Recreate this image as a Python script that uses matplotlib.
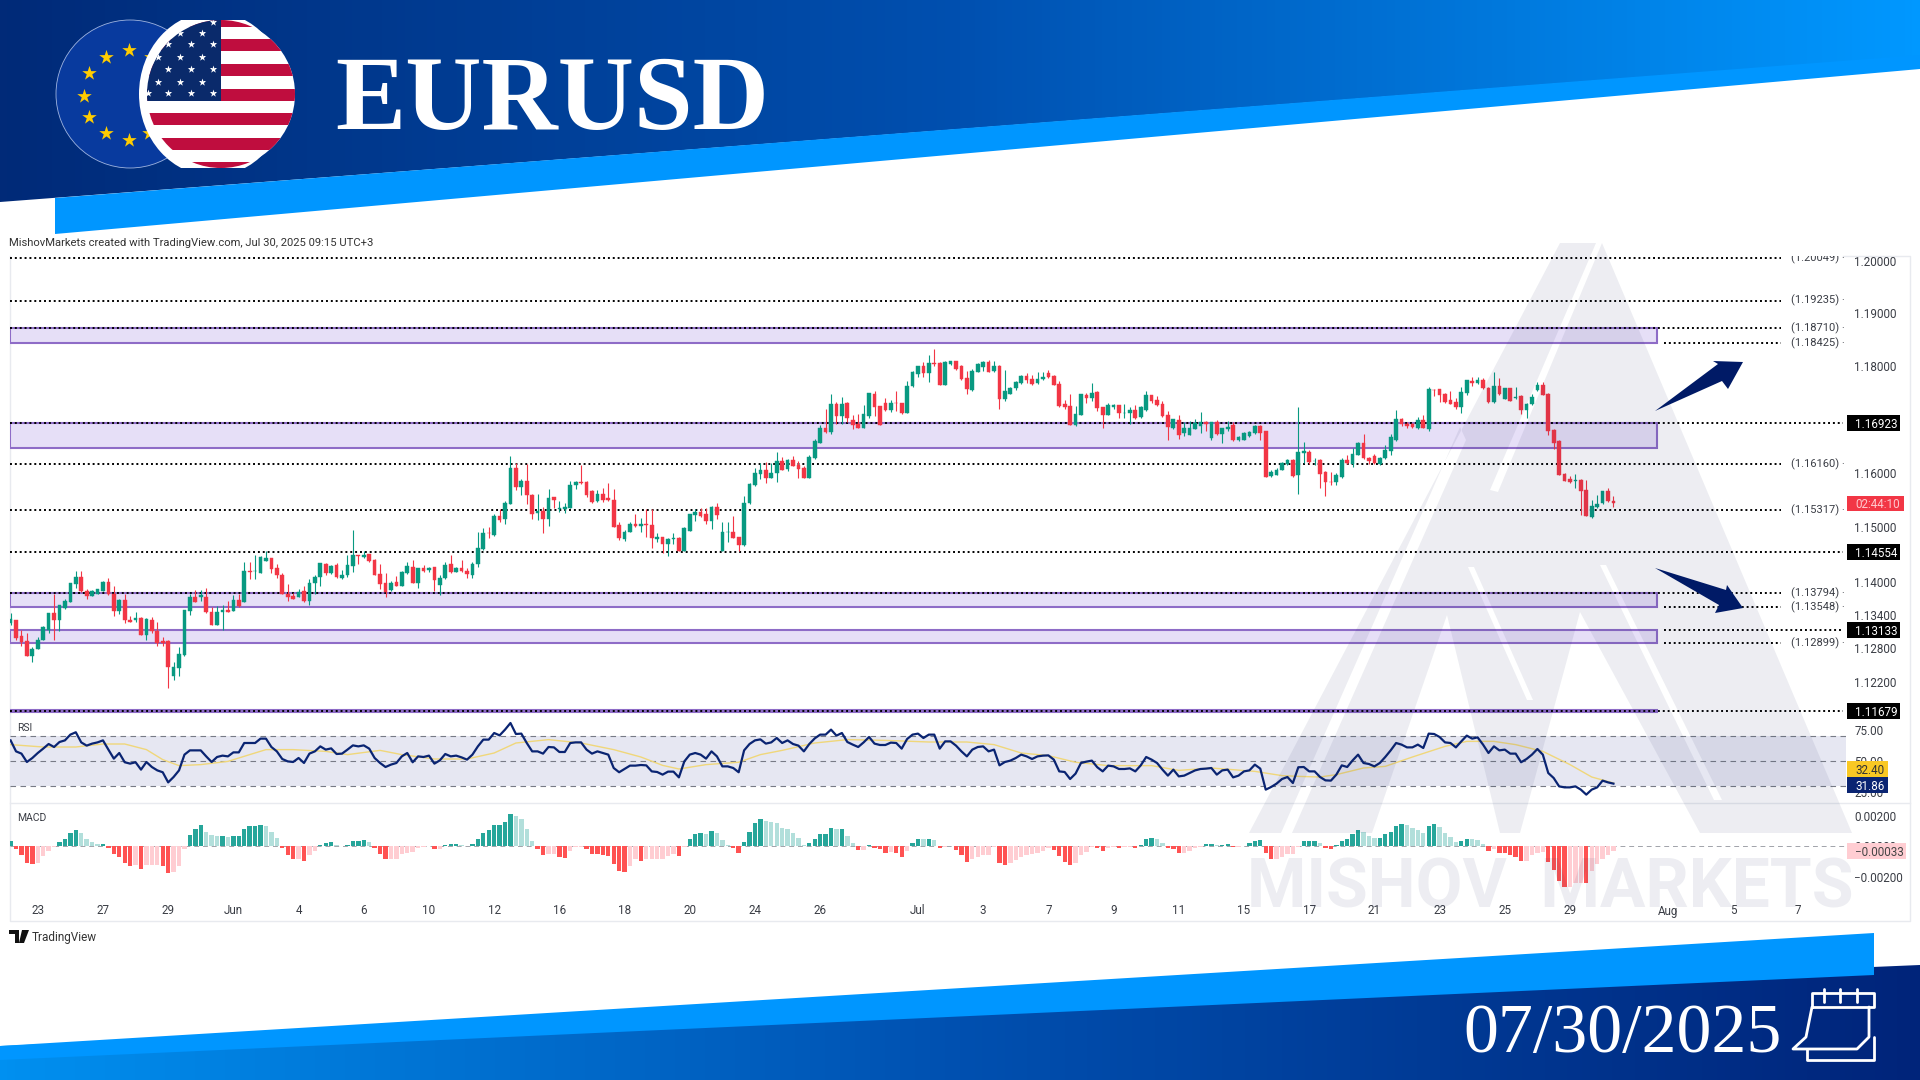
import numpy as np
import matplotlib
matplotlib.use('Agg')
import matplotlib.pyplot as plt
from matplotlib.colors import LinearSegmentedColormap
from matplotlib.patches import Ellipse, Polygon, Rectangle, PathPatch
from matplotlib.path import Path
from matplotlib.ticker import FormatStrFormatter

# 4H candles
opens = [
    1.1325,1.1332,1.1302,1.1293,1.1266,1.1279,1.1295,1.1314,1.1343,1.1332,
    1.1353,1.1364,1.1396,1.1410,1.1384,1.1375,1.1378,1.1384,1.1401,1.1379,
    1.1348,1.1367,1.1332,1.1332,1.1334,1.1305,1.1332,1.1312,1.1293,1.1293,
    1.1231,1.1245,1.1268,1.1347,1.1372,1.1373,1.1372,1.1346,1.1322,1.1345,
    1.1350,1.1348,1.1368,1.1363,1.1421,1.1420,1.1417,1.1439,1.1444,1.1425,
    1.1413,1.1379,1.1374,1.1373,1.1384,1.1365,1.1398,1.1409,1.1433,1.1416,
    1.1431,1.1408,1.1412,1.1430,1.1449,1.1445,1.1451,1.1441,1.1415,1.1398,
    1.1385,1.1400,1.1393,1.1416,1.1428,1.1398,1.1425,1.1422,1.1427,1.1395,
    1.1407,1.1432,1.1419,1.1426,1.1420,1.1412,1.1432,1.1461,1.1490,1.1486,
    1.1521,1.1516,1.1543,1.1610,1.1575,1.1585,1.1560,1.1527,1.1530,1.1515,
    1.1555,1.1533,1.1533,1.1536,1.1577,1.1583,1.1584,1.1567,1.1548,1.1562,
    1.1553,1.1551,1.1505,1.1479,1.1492,1.1507,1.1502,1.1507,1.1505,1.1479,
    1.1482,1.1469,1.1478,1.1480,1.1456,1.1493,1.1523,1.1528,1.1524,1.1512,
    1.1538,1.1456,1.1491,1.1492,1.1482,1.1467,1.1544,1.1577,1.1598,1.1606,
    1.1591,1.1600,1.1623,1.1607,1.1625,1.1614,1.1610,1.1591,1.1627,1.1655,
    1.1683,1.1677,1.1728,1.1706,1.1731,1.1699,1.1692,1.1684,1.1706,1.1747,
    1.1724,1.1731,1.1717,1.1731,1.1730,1.1711,1.1762,1.1785,1.1799,1.1786,
    1.1806,1.1806,1.1765,1.1804,1.1809,1.1799,1.1777,1.1755,1.1789,1.1798,
    1.1808,1.1790,1.1800,1.1738,1.1748,1.1758,1.1767,1.1781,1.1775,1.1767,
    1.1775,1.1786,1.1781,1.1766,1.1728,1.1724,1.1690,1.1708,1.1746,1.1740,
    1.1751,1.1722,1.1708,1.1722,1.1726,1.1711,1.1712,1.1718,1.1704,1.1717,
    1.1745,1.1736,1.1729,1.1707,1.1684,1.1699,1.1675,1.1671,1.1682,1.1687,
    1.1694,1.1665,1.1695,1.1672,1.1681,1.1689,1.1661,1.1662,1.1668,1.1674,
    1.1687,1.1678,1.1594,1.1597,1.1606,1.1616,1.1625,1.1597,1.1638,1.1639,
    1.1622,1.1625,1.1602,1.1584,1.1583,1.1592,1.1625,1.1617,1.1633,1.1656,
    1.1628,1.1631,1.1616,1.1627,1.1641,1.1661,1.1700,1.1692,1.1692,1.1684,
    1.1699,1.1681,1.1755,1.1756,1.1748,1.1736,1.1733,1.1723,1.1749,1.1771,
    1.1767,1.1774,1.1759,1.1733,1.1762,1.1738,1.1758,1.1740,1.1743,1.1717,
    1.1728,1.1754,1.1764,1.1748,1.1680,1.1659,1.1599,1.1589,1.1585,1.1588,
    1.1568,1.1519,1.1537,1.1544,1.1567,1.1548]
highs = [
    1.1343,1.1332,1.1313,1.1308,1.1282,1.1300,1.1320,1.1344,1.1378,1.1359,
    1.1370,1.1399,1.1420,1.1420,1.1387,1.1386,1.1388,1.1402,1.1408,1.1393,
    1.1369,1.1379,1.1338,1.1346,1.1337,1.1334,1.1337,1.1328,1.1301,1.1296,
    1.1255,1.1282,1.1350,1.1379,1.1385,1.1385,1.1390,1.1355,1.1357,1.1358,
    1.1365,1.1376,1.1379,1.1437,1.1437,1.1450,1.1447,1.1456,1.1444,1.1433,
    1.1417,1.1396,1.1381,1.1387,1.1393,1.1405,1.1413,1.1435,1.1434,1.1431,
    1.1435,1.1422,1.1449,1.1496,1.1449,1.1456,1.1452,1.1442,1.1432,1.1416,
    1.1402,1.1411,1.1420,1.1437,1.1440,1.1425,1.1431,1.1428,1.1428,1.1413,
    1.1437,1.1449,1.1428,1.1440,1.1425,1.1437,1.1492,1.1498,1.1501,1.1525,
    1.1533,1.1548,1.1631,1.1618,1.1589,1.1616,1.1562,1.1562,1.1538,1.1570,
    1.1556,1.1549,1.1544,1.1586,1.1586,1.1615,1.1586,1.1568,1.1568,1.1573,
    1.1582,1.1570,1.1509,1.1495,1.1509,1.1524,1.1518,1.1533,1.1533,1.1490,
    1.1483,1.1480,1.1489,1.1483,1.1501,1.1525,1.1533,1.1535,1.1535,1.1539,
    1.1544,1.1509,1.1510,1.1521,1.1483,1.1558,1.1582,1.1609,1.1618,1.1621,
    1.1618,1.1639,1.1630,1.1626,1.1631,1.1622,1.1613,1.1634,1.1664,1.1690,
    1.1719,1.1747,1.1733,1.1741,1.1733,1.1708,1.1709,1.1727,1.1750,1.1753,
    1.1725,1.1740,1.1736,1.1753,1.1731,1.1772,1.1791,1.1800,1.1807,1.1820,
    1.1832,1.1808,1.1809,1.1810,1.1810,1.1801,1.1790,1.1794,1.1805,1.1810,
    1.1811,1.1810,1.1801,1.1792,1.1761,1.1771,1.1782,1.1787,1.1782,1.1788,
    1.1788,1.1792,1.1782,1.1771,1.1736,1.1747,1.1725,1.1748,1.1750,1.1767,
    1.1752,1.1723,1.1731,1.1729,1.1727,1.1729,1.1722,1.1726,1.1724,1.1752,
    1.1746,1.1744,1.1734,1.1716,1.1701,1.1708,1.1694,1.1697,1.1700,1.1714,
    1.1696,1.1695,1.1699,1.1684,1.1697,1.1695,1.1668,1.1676,1.1678,1.1689,
    1.1690,1.1679,1.1605,1.1610,1.1620,1.1626,1.1626,1.1722,1.1658,1.1642,
    1.1628,1.1626,1.1603,1.1602,1.1600,1.1627,1.1633,1.1646,1.1658,1.1673,
    1.1629,1.1636,1.1629,1.1652,1.1673,1.1717,1.1703,1.1695,1.1693,1.1704,
    1.1708,1.1760,1.1756,1.1757,1.1749,1.1753,1.1740,1.1760,1.1774,1.1779,
    1.1779,1.1778,1.1760,1.1789,1.1778,1.1759,1.1759,1.1760,1.1745,1.1731,
    1.1748,1.1770,1.1770,1.1749,1.1681,1.1661,1.1600,1.1594,1.1598,1.1589,
    1.1588,1.1550,1.1560,1.1567,1.1572,1.1557]
lows = [
    1.1322,1.1295,1.1285,1.1266,1.1255,1.1279,1.1295,1.1308,1.1296,1.1311,
    1.1352,1.1363,1.1389,1.1382,1.1369,1.1375,1.1378,1.1384,1.1376,1.1338,
    1.1342,1.1325,1.1327,1.1328,1.1304,1.1295,1.1307,1.1284,1.1285,1.1209,
    1.1224,1.1230,1.1267,1.1340,1.1363,1.1365,1.1344,1.1322,1.1322,1.1313,
    1.1345,1.1347,1.1355,1.1363,1.1405,1.1405,1.1416,1.1438,1.1417,1.1407,
    1.1378,1.1365,1.1369,1.1372,1.1364,1.1358,1.1378,1.1393,1.1412,1.1415,
    1.1408,1.1405,1.1410,1.1419,1.1433,1.1443,1.1436,1.1412,1.1387,1.1372,
    1.1384,1.1392,1.1392,1.1414,1.1398,1.1389,1.1419,1.1419,1.1384,1.1376,
    1.1406,1.1416,1.1418,1.1419,1.1407,1.1407,1.1428,1.1459,1.1481,1.1485,
    1.1509,1.1507,1.1542,1.1568,1.1559,1.1542,1.1515,1.1513,1.1489,1.1503,
    1.1535,1.1528,1.1527,1.1536,1.1571,1.1579,1.1555,1.1545,1.1547,1.1547,
    1.1548,1.1500,1.1477,1.1475,1.1491,1.1501,1.1492,1.1483,1.1462,1.1473,
    1.1453,1.1448,1.1469,1.1456,1.1456,1.1493,1.1512,1.1519,1.1507,1.1497,
    1.1516,1.1456,1.1474,1.1480,1.1456,1.1465,1.1542,1.1576,1.1589,1.1581,
    1.1590,1.1583,1.1605,1.1604,1.1613,1.1591,1.1591,1.1591,1.1626,1.1655,
    1.1675,1.1672,1.1692,1.1692,1.1694,1.1681,1.1683,1.1684,1.1703,1.1706,
    1.1689,1.1716,1.1713,1.1716,1.1709,1.1711,1.1761,1.1780,1.1780,1.1769,
    1.1799,1.1764,1.1765,1.1801,1.1792,1.1774,1.1747,1.1753,1.1788,1.1791,
    1.1788,1.1789,1.1719,1.1735,1.1747,1.1755,1.1766,1.1767,1.1765,1.1766,
    1.1774,1.1777,1.1764,1.1723,1.1719,1.1690,1.1687,1.1707,1.1731,1.1735,
    1.1716,1.1684,1.1707,1.1719,1.1703,1.1703,1.1692,1.1700,1.1703,1.1716,
    1.1731,1.1725,1.1704,1.1662,1.1681,1.1664,1.1668,1.1670,1.1681,1.1675,
    1.1679,1.1661,1.1671,1.1655,1.1679,1.1659,1.1659,1.1661,1.1667,1.1673,
    1.1662,1.1593,1.1592,1.1596,1.1605,1.1614,1.1593,1.1561,1.1619,1.1617,
    1.1614,1.1572,1.1557,1.1577,1.1578,1.1591,1.1617,1.1611,1.1633,1.1626,
    1.1617,1.1617,1.1614,1.1626,1.1633,1.1659,1.1687,1.1684,1.1683,1.1682,
    1.1683,1.1679,1.1743,1.1733,1.1731,1.1728,1.1720,1.1711,1.1746,1.1763,
    1.1766,1.1756,1.1731,1.1731,1.1746,1.1737,1.1734,1.1738,1.1710,1.1703,
    1.1726,1.1753,1.1745,1.1671,1.1645,1.1596,1.1585,1.1582,1.1573,1.1522,
    1.1521,1.1517,1.1536,1.1543,1.1547,1.1538]
closes = [
    1.1333,1.1299,1.1292,1.1266,1.1279,1.1296,1.1319,1.1343,1.1332,1.1358,
    1.1365,1.1398,1.1410,1.1384,1.1375,1.1384,1.1387,1.1401,1.1378,1.1348,
    1.1367,1.1331,1.1327,1.1334,1.1305,1.1333,1.1311,1.1290,1.1290,1.1246,
    1.1246,1.1270,1.1349,1.1372,1.1364,1.1376,1.1345,1.1322,1.1346,1.1350,
    1.1346,1.1368,1.1357,1.1420,1.1418,1.1421,1.1445,1.1443,1.1424,1.1412,
    1.1379,1.1372,1.1369,1.1382,1.1365,1.1399,1.1410,1.1434,1.1416,1.1430,
    1.1410,1.1413,1.1431,1.1449,1.1447,1.1450,1.1439,1.1413,1.1396,1.1382,
    1.1398,1.1393,1.1418,1.1429,1.1398,1.1425,1.1421,1.1425,1.1404,1.1407,
    1.1431,1.1419,1.1426,1.1420,1.1414,1.1432,1.1462,1.1490,1.1489,1.1521,
    1.1513,1.1544,1.1610,1.1575,1.1586,1.1559,1.1525,1.1530,1.1515,1.1554,
    1.1551,1.1536,1.1538,1.1578,1.1584,1.1581,1.1560,1.1547,1.1562,1.1551,
    1.1550,1.1501,1.1480,1.1492,1.1507,1.1502,1.1506,1.1504,1.1481,1.1482,
    1.1469,1.1478,1.1480,1.1456,1.1499,1.1524,1.1528,1.1521,1.1512,1.1538,
    1.1522,1.1491,1.1492,1.1481,1.1467,1.1545,1.1580,1.1600,1.1606,1.1590,
    1.1601,1.1623,1.1606,1.1625,1.1613,1.1608,1.1591,1.1630,1.1660,1.1683,
    1.1677,1.1729,1.1706,1.1729,1.1702,1.1690,1.1684,1.1709,1.1749,1.1723,
    1.1690,1.1717,1.1731,1.1730,1.1711,1.1763,1.1789,1.1799,1.1786,1.1806,
    1.1804,1.1765,1.1808,1.1809,1.1794,1.1775,1.1757,1.1791,1.1803,1.1808,
    1.1789,1.1799,1.1738,1.1752,1.1758,1.1769,1.1781,1.1774,1.1766,1.1775,
    1.1780,1.1779,1.1765,1.1724,1.1722,1.1690,1.1709,1.1747,1.1740,1.1750,
    1.1721,1.1708,1.1727,1.1726,1.1711,1.1712,1.1718,1.1702,1.1723,1.1746,
    1.1735,1.1726,1.1706,1.1685,1.1700,1.1671,1.1684,1.1683,1.1693,1.1694,
    1.1692,1.1694,1.1673,1.1683,1.1685,1.1661,1.1667,1.1674,1.1676,1.1687,
    1.1675,1.1593,1.1602,1.1606,1.1618,1.1625,1.1594,1.1639,1.1641,1.1621,
    1.1623,1.1598,1.1583,1.1583,1.1597,1.1625,1.1618,1.1636,1.1656,1.1627,
    1.1622,1.1618,1.1628,1.1642,1.1666,1.1700,1.1692,1.1687,1.1686,1.1699,
    1.1684,1.1756,1.1754,1.1746,1.1733,1.1729,1.1723,1.1751,1.1773,1.1767,
    1.1774,1.1758,1.1733,1.1762,1.1748,1.1758,1.1735,1.1741,1.1717,1.1729,
    1.1742,1.1765,1.1746,1.1678,1.1656,1.1597,1.1586,1.1583,1.1588,1.1567,
    1.1521,1.1539,1.1543,1.1566,1.1548,1.1544]

rsi = [
    66.5,57.7,55.9,49.2,52.4,56.4,59.9,63.6,61.2,65.2,
    66.5,71.1,73.0,64.9,62.3,63.9,64.9,66.5,59.1,51.9,
    56.4,49.0,47.9,49.0,43.1,49.2,45.2,42.5,41.0,32.9,
    37.2,42.5,55.1,58.5,58.5,58.5,53.7,49.2,53.2,54.3,
    53.7,56.9,56.9,64.4,64.4,64.4,67.9,67.9,61.2,57.7,
    51.6,49.7,49.2,52.4,48.4,55.9,57.7,61.7,59.1,60.1,
    55.6,55.9,59.1,62.5,61.7,62.5,59.9,52.4,48.4,45.2,
    47.1,48.4,53.7,56.4,49.0,53.7,53.2,54.3,47.9,50.5,
    55.6,53.7,54.3,52.9,51.1,55.1,61.7,67.1,67.1,72.4,
    70.5,75.1,80.4,71.6,71.9,64.4,57.7,57.7,55.9,61.2,
    60.9,57.2,57.2,64.4,64.9,64.9,59.1,55.9,57.7,56.4,
    55.1,44.4,41.0,43.6,46.3,46.3,46.8,
    46.5,41.7,41.2,39.1,41.5,41.5,36.9,49.7,55.1,56.4,
    55.1,51.9,57.7,53.7,45.7,45.7,44.4,41.0,58.5,63.6,
    66.5,67.3,63.9,64.9,68.4,64.4,66.5,63.6,62.3,57.7,
    63.6,68.1,71.1,71.1,75.1,70.3,72.4,65.2,63.1,61.2,
    64.9,69.2,63.9,62.8,62.8,64.7,64.4,59.9,67.6,71.1,
    71.9,68.4,71.1,71.1,59.9,65.7,65.7,62.3,57.7,53.7,
    59.1,61.2,61.7,57.7,59.1,46.5,49.2,50.3,52.4,55.1,
    53.7,51.6,53.7,54.3,54.5,51.1,41.7,41.2,35.6,39.9,
    48.4,49.5,50.3,45.0,41.7,46.3,45.7,43.6,43.6,44.1,
    41.7,46.5,53.2,51.1,48.4,43.1,38.3,43.1,37.7,38.3,
    40.4,42.5,43.6,43.9,44.4,39.1,42.5,43.1,36.9,38.3,
    41.7,42.5,47.1,43.9,27.1,29.2,31.9,
    35.6,37.2,32.4,45.0,45.2,41.7,41.7,37.2,34.5,34.3,
    39.1,46.5,45.2,50.5,55.1,48.4,47.6,45.7,48.4,53.2,
    58.5,64.4,63.1,60.9,60.9,63.1,60.4,71.9,71.6,69.2,
    64.9,64.4,60.9,65.7,70.3,67.9,68.9,63.1,56.4,61.7,
    58.5,59.1,55.9,55.9,49.0,51.6,55.1,59.6,55.1,40.4,
    36.4,29.7,28.9,28.9,29.7,27.1,23.1,27.1,28.9,34.3,
    32.9,31.9]

# the smoothing line only read at some candles
rsi_ma_idx = [0,6,12,17,21,25,28,31,35,40,44,47,52,58,62,68,72,78,84,89,93,99,105,111,116,
              120,123,128,134,138,142,148,154,161,169,176,181,186,191,196,202,210,215,221,229,234,
              237,241,244,249,253,258,264,268,273,277,282,287,291,295]
rsi_ma = [63.1,61.2,61.2,63.6,63.6,59.1,51.1,46.3,47.1,49.7,55.1,59.1,59.1,57.7,55.1,58.5,55.1,51.6,51.6,56.4,64.4,67.1,64.4,59.1,53.2,
          46.5,43.6,47.1,49.0,55.1,58.5,64.4,67.1,66.5,65.2,65.2,63.1,56.4,54.3,49.0,46.3,46.3,42.5,44.4,41.7,38.3,
          37.7,37.2,39.1,44.4,45.7,53.2,61.7,65.7,65.7,63.1,57.7,47.1,37.2,32.4]

# MACD histogram in 1e-5 units
macd_hist = [
    33,-22,-59,-109,-120,-109,-66,-33,-4,26,
    44,83,103,83,48,26,15,15,-15,-55,
    -72,-114,-131,-127,-149,-127,-127,-127,-131,-175,
    -171,-131,-22,72,114,138,92,70,66,66,
    59,66,66,109,131,131,138,131,92,55,
    -11,-59,-87,-87,-98,-61,-33,7,17,28,
    4,-2,7,35,35,39,26,-15,-55,-87,
    -87,-87,-55,-44,-37,-11,-4,-2,-22,-22,
    7,11,15,7,-2,13,44,87,105,138,
    138,157,212,197,179,114,33,-22,-61,-55,
    -55,-72,-77,-33,-7,-4,-22,-52,-55,-61,
    -66,-120,-164,-168,-131,-87,
    -98,-87,-87,-87,-83,-66,-55,-66,-4,44,
    77,87,77,96,83,37,7,-15,-48,28,
    94,153,175,166,157,153,120,109,87,55,
    7,17,44,77,77,120,109,109,66,22,
    -26,-26,7,-13,-22,-44,-37,-44,-70,-33,
    17,48,44,48,37,-11,-4,-2,-26,-59,
    -103,-87,-70,-59,-59,-4,-114,-125,-109,-92,
    -70,-61,-55,-48,-33,-11,-26,-66,-103,-125,
    -109,-59,-37,-7,-15,-33,-11,-7,-15,-7,
    -4,-15,7,48,55,48,22,-15,-22,-48,
    -48,-33,-15,-4,11,15,7,9,13,-7,
    -7,-2,22,33,37,-48,-87,-87,
    -72,-55,-55,-4,33,35,35,17,-13,-22,
    7,35,48,77,105,92,66,55,55,77,
    92,131,146,136,120,103,87,131,142,127,
    87,61,28,31,48,44,39,15,-33,-17,
    -44,-48,-59,-72,-98,-98,-61,-44,-37,-105,
    -157,-230,-269,-269,-240,-240,-245,-164,-120,-87,
    -59,-33]

time_idx = [5,17,29,41,53,65,77,89,101,113,125,137,149,167,179,191,203,215,227,239,251,263,275,287,305,317,329]
time_labels = ['23','27','29','Jun','4','6','10','12','16','18','20','24','26','Jul','3','7','9','11','15','17','21','23','25','29','Aug','5','7']

price_ticks = [1.2,1.19,1.18,1.17,1.16,1.15,1.14,1.134,1.128,1.122]
rsi_ticks = [75,50,25]
macd_ticks = [0.002,0.0,-0.002]

# (top, bottom) of the purple zones
zones = [(1.18710,1.18425),(1.16923,1.16465),(1.13794,1.13548),(1.13133,1.12899),(1.11690,1.11668)]
levels_label = [1.20049,1.19235,1.18710,1.18425,1.16160,1.15317,1.13794,1.13548,1.12899]
levels_box = [1.16923,1.14554,1.13133,1.11679]
# these only show to the right of their zone
levels_after_zone = [1.18425,1.13548,1.13133,1.12899]

W, H = 1920, 1080
GREEN, RED = '#089981', '#f23645'
NAVY = '#0a2472'
AXIS_TXT = '#3a3d45'
FONT = 'Roboto'

def pane(x0, y0, x1, y1):
    return [x0 / W, 1 - y1 / H, (x1 - x0) / W, (y1 - y0) / H]

fig = plt.figure(figsize=(W / 100, H / 100), dpi=100, facecolor='white')

# --- background layer, in pixel coordinates ---
bg = fig.add_axes([0, 0, 1, 1], zorder=0)
bg.set_xlim(0, W)
bg.set_ylim(H, 0)
bg.axis('off')

def gradient(pts, colors):
    cmap = LinearSegmentedColormap.from_list('g', colors)
    im = bg.imshow(np.linspace(0, 1, 512)[None, :], extent=[0, W, H, 0], cmap=cmap, aspect='auto')
    im.set_clip_path(Polygon(pts, closed=True, transform=bg.transData))

bg.add_patch(Polygon([(55, 198), (W, 55), (W, 69), (55, 234)], fc='#0096ff', ec='none'))
gradient([(0, 0), (W, 0), (W, 56), (0, 202)], ['#012a78', '#0050b0', '#0098ff'])
bg.add_patch(Polygon([(0, 1046), (1874, 933), (1874, 975), (0, 1060)], fc='#0096ff', ec='none'))
gradient([(0, 1046), (W, 965), (W, H), (0, H)], ['#0090f0', '#0050b0', '#00247a'])
bg.set_xlim(0, W)
bg.set_ylim(H, 0)

bg.text(335, 129, 'EURUSD', color='white', family='Liberation Serif', weight='bold', fontsize=76,
        ha='left', va='baseline')
bg.text(1463, 1052, '07/30/2025', color='white', family='Liberation Serif', fontsize=50.3,
        ha='left', va='baseline')

# calendar icon
cal = dict(color='white', lw=2, solid_capstyle='round', solid_joinstyle='round')
bg.plot([1812, 1812, 1874, 1874, 1812], [1007, 993, 993, 1007, 1007], **cal)
bg.plot([1812, 1806, 1793, 1857, 1869, 1869], [1007, 1037, 1049, 1049, 1037, 1007], **cal)
bg.plot([1807, 1807, 1874, 1874], [1049, 1060, 1060, 1037], **cal)
for rx in [1824, 1840, 1857]:
    bg.plot([rx, rx], [989, 1002], **cal)

# flags
eu = Ellipse((130, 94), 148, 148, fc='#083a9e', ec='#9fb4e0', lw=0.6)
bg.add_patch(eu)
eu_x = [129, 106, 89, 84, 89, 106, 129, 149, 151]
eu_y = [50, 57, 73, 96, 117, 133, 140, 133, 57]
bg.scatter(eu_x, eu_y, marker='*', s=120, color='#ffcc00', linewidths=0, zorder=3)
ring = Ellipse((213, 94), 148, 164, fc='white', ec='none', zorder=4)
bg.add_patch(ring)
ring.set_clip_path(Rectangle((0, 20), 400, 148, transform=bg.transData))
us = Ellipse((221, 94), 148, 148, fc='white', ec='none', zorder=5)
bg.add_patch(us)
for sy in [14.5, 39, 64, 88.5, 113, 138, 162]:
    r = Rectangle((140, sy), 160, 12.4, fc='#bf0d3e', ec='none', zorder=6)
    bg.add_patch(r)
    r.set_clip_path(us)
canton = Rectangle((140, 15), 81, 86, fc='#0a2a6b', ec='none', zorder=7)
bg.add_patch(canton)
canton.set_clip_path(us)
us_x = [180, 202, 168, 191, 213, 158, 180, 202, 168, 191, 213, 158, 180, 202, 148, 168, 191, 213, 213]
us_y = [33, 33, 44, 44, 44, 57, 57, 57, 69, 69, 69, 82, 82, 82, 93, 93, 93, 93, 22]
stars = bg.scatter(us_x, us_y, marker='*', s=32, color='white', linewidths=0, zorder=8)
stars.set_clip_path(us)

bg.text(9, 243, 'MishovMarkets created with TradingView.com, Jul 30, 2025 09:15 UTC+3', family=FONT,
        fontsize=8.15, color='#333333', va='center')
# tradingview logo
bg.add_patch(Polygon([(9, 930), (19, 930), (19, 943), (15, 943), (15, 934), (9, 934)], fc='#111111', ec='none'))
bg.add_patch(Polygon([(22, 930), (29, 930), (24, 943), (19, 943)], fc='#111111', ec='none'))
bg.text(32, 938, 'TradingView', family=FONT, fontsize=8.5, color='#333333', va='center')

# frame of the chart
frame = '#e8eaef'
bg.plot([10, 10, 1910, 1910, 1843], [256, 921, 921, 256, 256], color=frame, lw=1)
bg.plot([10, 1910], [803, 803], color=frame, lw=1)

# --- price pane ---
x = np.arange(len(closes))
o, h, l, c = np.array(opens), np.array(highs), np.array(lows), np.array(closes)
xlim = (-0.11, 337.8)
R_END = 1846
ZONE_END = 0.8969

ax = fig.add_axes(pane(10, 256, R_END, 716), zorder=1, facecolor='none')
ax.set_yscale('log')
ax.set_xlim(*xlim)
ax.set_ylim(1.11590, 1.20087)
trans = ax.get_yaxis_transform()

for top_p, bot_p in zones:
    ax.add_patch(Rectangle((0, bot_p), ZONE_END, top_p - bot_p, transform=trans, fc='#e6dff7', ec='#8e6cc7', lw=1.5, zorder=1))

dots = (0, (1, 1.5))
for lv in levels_label:
    x_start = ZONE_END + 0.004 if lv in levels_after_zone else 0
    ax.plot([x_start, 0.9646], [lv, lv], transform=trans, color='black', lw=1.4, ls=dots, zorder=2)
    ax.text(0.97, lv, '(%.5f) ·' % lv, transform=trans, family=FONT, fontsize=8, color=AXIS_TXT, va='center', clip_on=True)
for lv in levels_box:
    x_start = ZONE_END + 0.004 if lv in levels_after_zone else 0
    ax.plot([x_start, 0.9984], [lv, lv], transform=trans, color='black', lw=1.4, ls=dots, zorder=2)

colors = [GREEN if cl >= op else RED for op, cl in zip(opens, closes)]
ax.vlines(x, l, h, colors=colors, lw=0.8, zorder=3)
ax.bar(x, np.maximum(np.abs(c - o), 0.00004), bottom=np.minimum(o, c), width=0.68, color=colors,
       edgecolor=colors, linewidth=0.3, zorder=4)

ax.yaxis.tick_right()
ax.set_yticks(price_ticks)
ax.yaxis.set_major_formatter(FormatStrFormatter('%.5f'))
ax.minorticks_off()
ax.tick_params(axis='y', length=0, pad=6, labelsize=8.4, labelcolor=AXIS_TXT)
ax.set_xticks([])
for s in ax.spines.values():
    s.set_visible(False)
for lab in ax.get_yticklabels():
    lab.set_family(FONT)

# --- RSI pane ---
ax2 = fig.add_axes(pane(10, 716, R_END, 803), zorder=1, facecolor='none')
ax2.set_xlim(*xlim)
ax2.set_ylim(16.4, 86)
ax2.axhspan(30, 70, color='#e6e7f2', lw=0, zorder=1)
for lv in [70, 50, 30]:
    ax2.axhline(lv, color='#787b86', lw=0.8, ls=(0, (5, 4)), zorder=2)
ax2.plot(rsi_ma_idx, rsi_ma, color='#f0d77a', lw=1, zorder=3)
ax2.plot(x, rsi, color=NAVY, lw=1.6, zorder=4)
ax2.text(0.0038, 0.86, 'RSI', transform=ax2.transAxes, family=FONT, fontsize=7.5, color=AXIS_TXT, va='center')
ax2.yaxis.tick_right()
ax2.set_yticks(rsi_ticks)
ax2.set_yticklabels(['%.2f' % t for t in rsi_ticks], family=FONT)
ax2.tick_params(axis='y', length=0, pad=6, labelsize=8.4, labelcolor=AXIS_TXT)
ax2.set_xticks([])
for s in ax2.spines.values():
    s.set_visible(False)

# --- MACD pane ---
hist = np.array(macd_hist) * 1e-5
bar_colors = []
for i, v in enumerate(hist):
    prev = hist[i - 1] if i else v
    if v >= 0:
        bar_colors.append('#26a69a' if v >= prev else '#b2dfdb')
    else:
        bar_colors.append('#ff5252' if v < prev else '#ffcdd2')

ax3 = fig.add_axes(pane(10, 803, R_END, 892), zorder=1, facecolor='none')
ax3.set_xlim(*xlim)
ax3.set_ylim(-0.003016, 0.00282)
ax3.axhline(0, color='#787b86', lw=0.7, ls=(0, (5, 4)), alpha=0.7, zorder=1)
ax3.bar(x, hist, width=0.8, color=bar_colors, linewidth=0, zorder=2)
ax3.text(0.0038, 0.83, 'MACD', transform=ax3.transAxes, family=FONT, fontsize=7.5, color=AXIS_TXT, va='center')
ax3.yaxis.tick_right()
ax3.set_yticks(macd_ticks)
ax3.set_yticklabels(['%.5f' % t if t >= 0 else '\u2212%.5f' % -t for t in macd_ticks], family=FONT)
ax3.tick_params(axis='y', length=0, pad=6, labelsize=8.4, labelcolor=AXIS_TXT)
ax3.set_xticks(time_idx)
ax3.set_xticklabels(time_labels, family=FONT)
ax3.tick_params(axis='x', length=0, pad=9, labelsize=8.4, labelcolor=AXIS_TXT)
for s in ax3.spines.values():
    s.set_visible(False)

# --- top layer: watermark, arrows, value boxes ---
top = fig.add_axes([0, 0, 1, 1], zorder=5, facecolor='none')
top.set_xlim(0, W)
top.set_ylim(H, 0)
top.axis('off')

def ring_path(outer, holes):
    verts, codes = [], []
    def add(pts):
        verts.extend(pts + [pts[0]])
        codes.extend([Path.MOVETO] + [Path.LINETO] * (len(pts) - 1) + [Path.CLOSEPOLY])
    def area(pts):
        p = np.array(pts)
        return np.sum(p[:, 0] * np.roll(p[:, 1], -1) - np.roll(p[:, 0], -1) * p[:, 1])
    add(outer if area(outer) > 0 else outer[::-1])
    for hole in holes:
        add(hole if area(hole) < 0 else hole[::-1])
    return Path(verts, codes)

wm_color = (0.10, 0.15, 0.36, 0.08)
mark = ring_path([(1560, 243), (1596, 243), (1602, 243), (1852, 833), (1249, 833)],
                 [[(1596, 243), (1602, 243), (1498, 492), (1490, 490)],
                  [(1460, 427), (1466, 440), (1292, 833), (1281, 833)],
                  [(1447, 615), (1372, 833), (1500, 833)],
                  [(1580, 612), (1520, 833), (1700, 833)],
                  [(1468, 567), (1474, 567), (1533, 700), (1527, 700)],
                  [(1600, 565), (1606, 565), (1722, 800), (1714, 800)]])
top.add_patch(PathPatch(mark, fc=wm_color, ec='none', zorder=1))
top.text(1247, 908, 'MISHOV  MARKETS', family=FONT, weight='bold', fontsize=48.8, color=wm_color,
         ha='left', va='baseline', zorder=1)

arrow_col = '#001a66'
top.add_patch(Polygon([(1655, 411), (1718, 364), (1713, 361), (1743, 362), (1728, 389), (1722, 381)],
                      fc=arrow_col, ec='none', zorder=2))
top.add_patch(Polygon([(1655, 568), (1726, 590), (1727, 585), (1743, 608), (1715, 613), (1719, 605)],
                      fc=arrow_col, ec='none', zorder=2))

def value_box(text, y0, y1, fc, tc, x1=1900):
    top.add_patch(Rectangle((1847, y0), x1 - 1847, y1 - y0, fc=fc, ec='none', zorder=3))
    top.text(1855, (y0 + y1) / 2, text, family=FONT, fontsize=8.4, color=tc, va='center_baseline', ha='left', zorder=4)

# box positions follow the price scale of the pane
for lv in levels_box:
    _, yp = ax.transData.transform((0, lv))
    yc = H - yp
    value_box('%.5f' % lv, yc - 8, yc + 8, 'black', 'white')
value_box('02:44:10', 496, 511, RED, '#ffc9ce', 1904)
value_box('32.40', 761, 777, '#f9c824', '#333333', 1888)
value_box('31.86', 777, 793, NAVY, 'white', 1888)
value_box('\u22120.00033', 843, 859, '#ffcdd2', '#444444', 1906)

fig.savefig('out.png', dpi=100)
